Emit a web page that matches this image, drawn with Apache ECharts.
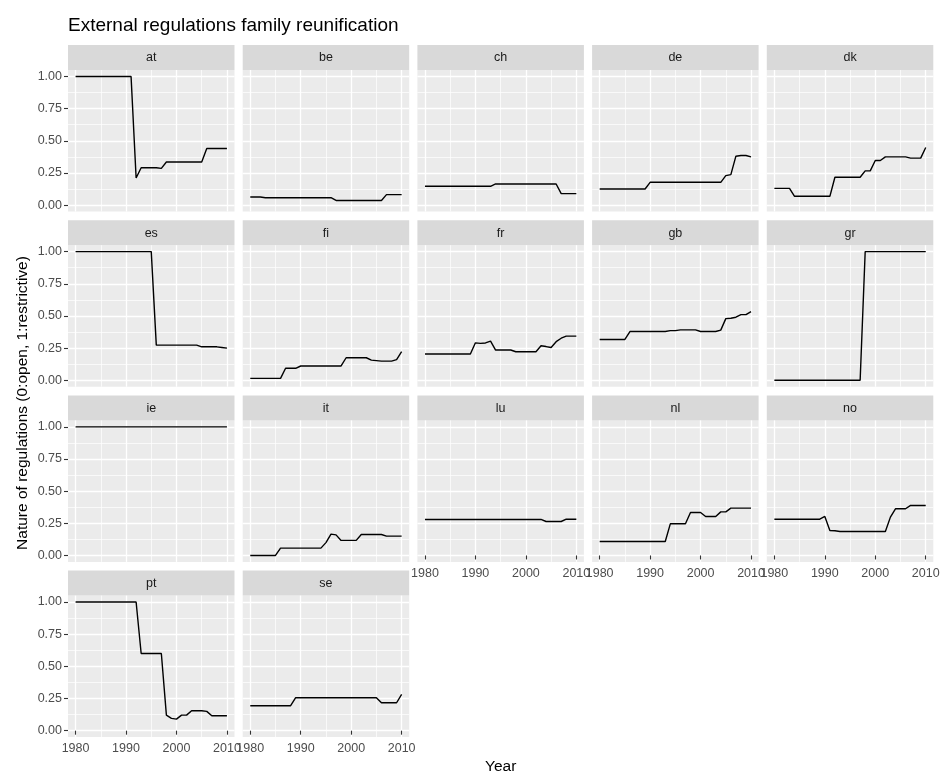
<!DOCTYPE html>
<html><head><meta charset="utf-8">
<script src="https://cdn.jsdelivr.net/npm/echarts@6/dist/echarts.min.js"></script>
<style>html,body{margin:0;padding:0;background:#fff}#c{width:942px;height:775px}</style>
</head><body><div id="c"></div>
<script>
// ---------------- data ----------------
const years = [1980,1981,1982,1983,1984,1985,1986,1987,1988,1989,1990,1991,1992,1993,1994,1995,1996,1997,1998,1999,2000,2001,2002,2003,2004,2005,2006,2007,2008,2009,2010];
const panels = ['at','be','ch','de','dk','es','fi','fr','gb','gr','ie','it','lu','nl','no','pt','se'];

const v_at = [1,1,1,1,1,1,1,1,1,1,1,1,0.21,0.29,0.29,0.29,0.29,0.285,0.335,0.335,0.335,0.335,0.335,0.335,0.335,0.335,0.44,0.44,0.44,0.44,0.44];
const v_be = [0.063,0.063,0.063,0.057,0.057,0.057,0.057,0.057,0.057,0.057,0.057,0.057,0.057,0.057,0.057,0.057,0.057,0.036,0.036,0.036,0.036,0.036,0.036,0.036,0.036,0.036,0.036,0.081,0.081,0.081,0.081];
const v_ch = [0.146,0.146,0.146,0.146,0.146,0.146,0.146,0.146,0.146,0.146,0.146,0.146,0.146,0.146,0.164,0.164,0.164,0.164,0.164,0.164,0.164,0.164,0.164,0.164,0.164,0.164,0.164,0.089,0.089,0.089,0.089];
const v_de = [0.125,0.125,0.125,0.125,0.125,0.125,0.125,0.125,0.125,0.125,0.177,0.177,0.177,0.177,0.177,0.177,0.177,0.177,0.177,0.177,0.177,0.177,0.177,0.177,0.177,0.229,0.237,0.38,0.385,0.385,0.375];
const v_dk = [0.13,0.13,0.13,0.13,0.068,0.068,0.068,0.068,0.068,0.068,0.068,0.068,0.216,0.216,0.216,0.216,0.216,0.216,0.266,0.266,0.346,0.346,0.375,0.375,0.375,0.375,0.375,0.365,0.365,0.365,0.448];
const v_es = [1,1,1,1,1,1,1,1,1,1,1,1,1,1,1,1,0.273,0.273,0.273,0.273,0.273,0.273,0.273,0.273,0.273,0.26,0.26,0.26,0.26,0.255,0.25];
const v_fi = [0.015,0.015,0.015,0.015,0.015,0.015,0.015,0.093,0.093,0.093,0.111,0.111,0.111,0.111,0.111,0.111,0.111,0.111,0.111,0.175,0.175,0.175,0.175,0.175,0.157,0.153,0.149,0.149,0.149,0.16,0.222];
const v_fr = [0.204,0.204,0.204,0.204,0.204,0.204,0.204,0.204,0.204,0.204,0.291,0.287,0.29,0.304,0.235,0.235,0.235,0.235,0.222,0.222,0.222,0.222,0.222,0.268,0.262,0.255,0.30,0.327,0.343,0.343,0.343];
const v_gb = [0.317,0.317,0.317,0.317,0.317,0.317,0.379,0.379,0.379,0.379,0.379,0.379,0.379,0.379,0.386,0.386,0.392,0.392,0.392,0.392,0.379,0.379,0.379,0.379,0.39,0.479,0.482,0.49,0.51,0.51,0.534];
const v_gr = [0,0,0,0,0,0,0,0,0,0,0,0,0,0,0,0,0,0,1,1,1,1,1,1,1,1,1,1,1,1,1];
const v_ie = [1,1,1,1,1,1,1,1,1,1,1,1,1,1,1,1,1,1,1,1,1,1,1,1,1,1,1,1,1,1,1];
const v_it = [0,0,0,0,0,0,0.057,0.057,0.057,0.057,0.057,0.057,0.057,0.057,0.057,0.10,0.166,0.16,0.117,0.117,0.117,0.117,0.163,0.163,0.163,0.163,0.163,0.15,0.15,0.15,0.15];
const v_lu = [0.28,0.28,0.28,0.28,0.28,0.28,0.28,0.28,0.28,0.28,0.28,0.28,0.28,0.28,0.28,0.28,0.28,0.28,0.28,0.28,0.28,0.28,0.28,0.28,0.264,0.264,0.264,0.264,0.282,0.282,0.282];
const v_nl = [0.109,0.109,0.109,0.109,0.109,0.109,0.109,0.109,0.109,0.109,0.109,0.109,0.109,0.109,0.246,0.246,0.246,0.246,0.334,0.334,0.334,0.303,0.303,0.303,0.339,0.339,0.368,0.368,0.368,0.368,0.368];
const v_no = [0.282,0.282,0.282,0.282,0.282,0.282,0.282,0.282,0.282,0.282,0.303,0.194,0.192,0.186,0.186,0.186,0.186,0.186,0.186,0.186,0.186,0.186,0.186,0.298,0.363,0.363,0.363,0.389,0.389,0.389,0.389];
const v_pt = [1,1,1,1,1,1,1,1,1,1,1,1,1,0.60,0.60,0.60,0.60,0.60,0.121,0.096,0.09,0.121,0.121,0.155,0.155,0.155,0.15,0.116,0.116,0.116,0.116];
const v_se = [0.194,0.194,0.194,0.194,0.194,0.194,0.194,0.194,0.194,0.256,0.256,0.256,0.256,0.256,0.256,0.256,0.256,0.256,0.256,0.256,0.256,0.256,0.256,0.256,0.256,0.256,0.217,0.217,0.217,0.217,0.282];

const xTickValues = [1980, 1990, 2000, 2010];
const yTickValues = [0, 0.25, 0.5, 0.75, 1];
const yTickLabels = ['0.00', '0.25', '0.50', '0.75', '1.00'];

const titleText = 'External regulations family reunification';
const xTitle = 'Year';
const yTitle = 'Nature of regulations (0:open, 1:restrictive)';

const values = {at:v_at, be:v_be, ch:v_ch, de:v_de, dk:v_dk, es:v_es, fi:v_fi, fr:v_fr, gb:v_gb, gr:v_gr, ie:v_ie, it:v_it, lu:v_lu, nl:v_nl, no:v_no, pt:v_pt, se:v_se};

// ---------------- layout ----------------
const FONT = "'Liberation Sans', Arial, Helvetica, sans-serif";
const X0 = 68, XS = 174.7, W = 166.5;
const Y0 = 45, YS = 175.2, SH = 25, H = 141.5;
const TR = 'rgba(0,0,0,0)';
const cyc = (n, i) => { const a = new Array(n).fill(TR); a[i] = '#FFFFFF'; return a; };
const hidden = () => ({axisLine:{show:false}, axisTick:{show:false}, axisLabel:{show:false}});

const grids = [], xAxes = [], yAxes = [], series = [], graphics = [];

panels.forEach((name, i) => {
  const r = Math.floor(i / 5), c = i % 5;
  const left = X0 + c * XS, stripTop = Y0 + r * YS, top = stripTop + SH;
  const gA = grids.length;
  grids.push({left, top, width: W, height: H, show: true, backgroundColor: '#EBEBEB', borderWidth: 0, containLabel: false, outerBoundsMode: 'none'});
  const xa = xAxes.length;
  xAxes.push(Object.assign({gridIndex: gA, type: 'value', min: 1978.5, max: 2011.5, interval: 0.5, position: 'bottom',
    splitLine: {show: true, lineStyle: {color: cyc(20, 3), width: 1.3}}}, hidden()));
  xAxes.push(Object.assign({gridIndex: gA, type: 'value', min: 1978.5, max: 2011.5, interval: 0.5, position: 'top',
    splitLine: {show: true, lineStyle: {color: cyc(20, 13), width: 0.7}}}, hidden()));
  const ya = yAxes.length;
  yAxes.push(Object.assign({gridIndex: gA, type: 'value', min: -0.05, max: 1.05, interval: 0.025, position: 'left',
    splitLine: {show: true, lineStyle: {color: cyc(10, 2), width: 1.3}}}, hidden()));
  yAxes.push(Object.assign({gridIndex: gA, type: 'value', min: -0.05, max: 1.05, interval: 0.025, position: 'right',
    splitLine: {show: true, lineStyle: {color: cyc(10, 7), width: 0.7}}}, hidden()));

  series.push({type: 'line', xAxisIndex: xa, yAxisIndex: ya,
    data: years.map((y, k) => [y, values[name][k]]),
    showSymbol: false, symbol: 'none', silent: true, animation: false,
    lineStyle: {color: '#000000', width: 1.4}, z: 5});

  graphics.push({type: 'rect', shape: {x: left, y: stripTop, width: W, height: SH}, style: {fill: '#D9D9D9'}, silent: true});
  graphics.push({type: 'text', x: left + W / 2, y: stripTop + SH / 2 + 0.5, silent: true,
    style: {text: name, font: '12.5px ' + FONT, fill: '#1A1A1A', align: 'center', verticalAlign: 'middle', textAlign: 'center', textVerticalAlign: 'middle'}});

  const showY = c === 0;
  const showX = (r === 3) || (r === 2 && c >= 2);
  if (showX || showY) {
    const mx = W * 0.05 / 1.1, my = H * 0.05 / 1.1;
    const gB = grids.length;
    grids.push({left: left + mx, top: top + my, width: W - 2 * mx, height: H - 2 * my, show: false, containLabel: false, outerBoundsMode: 'none'});
    xAxes.push({gridIndex: gB, type: 'value', min: xTickValues[0], max: xTickValues[xTickValues.length - 1], interval: 10,
      position: 'bottom', offset: my,
      axisLine: {show: false}, splitLine: {show: false},
      axisTick: {show: showX, length: 4, lineStyle: {color: '#333333', width: 1.1}},
      axisLabel: {show: showX, margin: 5, color: '#4D4D4D', fontSize: 12.5, fontFamily: FONT, formatter: v => String(v)}});
    yAxes.push({gridIndex: gB, type: 'value', min: yTickValues[0], max: yTickValues[yTickValues.length - 1], interval: 0.25,
      position: 'left', offset: mx,
      axisLine: {show: false}, splitLine: {show: false},
      axisTick: {show: showY, length: 4, lineStyle: {color: '#333333', width: 1.1}},
      axisLabel: {show: showY, margin: 6, color: '#4D4D4D', fontSize: 12.5, fontFamily: FONT,
        formatter: v => { const k = yTickValues.findIndex(t => Math.abs(t - v) < 1e-9); return k >= 0 ? yTickLabels[k] : ''; }}});
  }
});

graphics.push({type: 'text', x: 68, y: 25.5, silent: true,
  style: {text: titleText, font: '19px ' + FONT, fill: '#000000', align: 'left', verticalAlign: 'middle', textAlign: 'left', textVerticalAlign: 'middle'}});
graphics.push({type: 'text', x: 500.7, y: 767, silent: true,
  style: {text: xTitle, font: '15.5px ' + FONT, fill: '#000000', align: 'center', verticalAlign: 'middle', textAlign: 'center', textVerticalAlign: 'middle'}});
graphics.push({type: 'text', x: 23, y: 403, rotation: Math.PI / 2, silent: true,
  style: {text: yTitle, font: '15.5px ' + FONT, fill: '#000000', align: 'center', verticalAlign: 'middle', textAlign: 'center', textVerticalAlign: 'middle'}});

const chart = echarts.init(document.getElementById('c'), null, {renderer: 'canvas', width: 942, height: 775});
chart.setOption({
  animation: false,
  backgroundColor: '#FFFFFF',
  grid: grids,
  xAxis: xAxes,
  yAxis: yAxes,
  series: series,
  graphic: {elements: graphics}
});
</script>
</body></html>
